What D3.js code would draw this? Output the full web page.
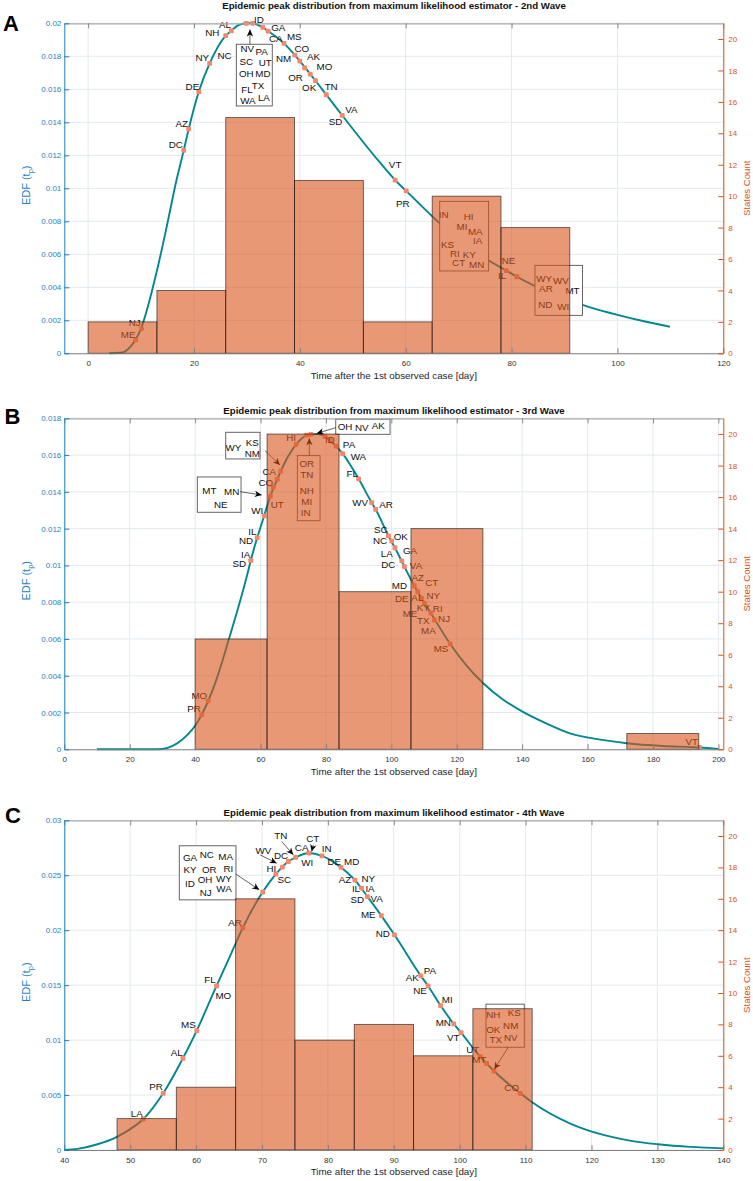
<!DOCTYPE html>
<html><head><meta charset="utf-8">
<script src="https://cdn.jsdelivr.net/npm/d3@7"></script>
<style>body{margin:0;background:#fff} text{font-family:"Liberation Sans",Arial,Helvetica,sans-serif}</style>
</head><body><svg id="c" width="753" height="1181"></svg>
<script>
// ---------------- Panel A (2nd wave) ----------------
const aXTicks=[0,20,40,60,80,100,120];
const aYTicks=[0,0.002,0.004,0.006,0.008,0.01,0.012,0.014,0.016,0.018,0.02];
const aBinEdges=[0,13,26,39,52,65,78,91];
const aCounts=[2,4,15,11,2,10,8];
const aCurveT=[4,6,7,8,9,10,11,12,13,14.8,16.7,18.06,19,20.9,22.96,26,27.05,28.5,29.9,30.5,31.1,33,34,37,39.06,40,41.96,42.96,45,48,55,58,60.1,68,70,72,75,79,81,87.9,91,95,100,105,109.9];
const aCurveY=[0,0.00003,0.00012,0.0004,0.00085,0.0015,0.0025,0.0037,0.005,0.0076,0.0105,0.0123,0.01359,0.01585,0.01757,0.01925,0.01955,0.0199,0.02,0.02,0.02,0.01975,0.01953,0.01878,0.01807,0.01771,0.01692,0.01652,0.01567,0.01442,0.01161,0.0105,0.00984,0.00743,0.00691,0.00642,0.00576,0.00501,0.00464,0.00358,0.00319,0.00277,0.00233,0.00194,0.00161];
const aMarkT=[9.0,10.1,18.06,19.0,20.9,22.96,26.0,27.05,29.9,31.1,33.0,34.0,37.0,39.06,40.0,40.9,41.96,42.96,45.0,48.0,58.0,60.1,68.0,70.0,71.0,72.0,73.0,74.0,75.0,79.0,81.0,87.9,91.0];
const aMarkY=[0.00081,0.0015,0.0123,0.01359,0.01585,0.01757,0.01925,0.01955,0.02,0.02,0.01975,0.01953,0.01878,0.01807,0.01771,0.0173,0.01692,0.01652,0.01567,0.01442,0.0105,0.00984,0.00743,0.00691,0.00667,0.00642,0.0062,0.00596,0.00576,0.00501,0.00464,0.00358,0.00319];
const aLabels=[["NH",23.47,0.01943],["AL",25.85,0.01991],["ID",32.26,0.02026],["GA",35.92,0.01976],["CA",35.47,0.01911],["MS",38.94,0.01919],["NM",36.92,0.01788],["CO",40.38,0.01848],["AK",42.58,0.01797],["MO",44.66,0.01737],["OR",39.2,0.01673],["OK",41.75,0.01611],["TN",45.92,0.0162],["VA",49.75,0.01479],["SD",46.74,0.01404],["NY",21.58,0.01794],["NC",25.79,0.01808],["DE",19.7,0.0162],["AZ",17.68,0.01394],["DC",16.55,0.01264],["NJ",8.81,0.00185],["ME",7.55,0.00117],["VT",58.0,0.01145],["PR",59.43,0.00909],
["NV",30.08,0.01848],["PA",32.77,0.01832],["SC",29.89,0.0177],["UT",33.47,0.01761],["OH",29.89,0.01693],["MD",33.02,0.01694],["TX",32.08,0.01622],["FL",30.0,0.01596],["LA",33.21,0.01551],["WA",30.19,0.01531],
["IN",67.17,0.00842],["HI",71.89,0.00828],["MI",70.64,0.00767],["MA",73.15,0.00741],["KS",67.9,0.00662],["IA",73.58,0.00682],["RI",69.3,0.00603],["KY",72.02,0.00596],["CT",70.0,0.00549],["MN",73.4,0.00541],
["NE",79.43,0.00565],["IL",78.19,0.0047],["WY",86.17,0.00455],["WV",89.32,0.0044],["AR",86.49,0.00394],["MT",91.51,0.00378],["ND",86.36,0.00293],["WI",89.75,0.00283]];
const aBoxes=[[28.0,0.01873,34.79,0.01499],[66.42,0.00921,75.66,0.00499],[84.42,0.00533,93.4,0.0023]];
const aArrows=[[30.57,0.01873,30.57,0.01963]];

// ---------------- Panel B (3rd wave) ----------------
const bXTicks=[0,20,40,60,80,100,120,140,160,180,200];
const bYTicks=[0,0.002,0.004,0.006,0.008,0.01,0.012,0.014,0.016,0.018];
const bBinEdges=[40,62,84,106,128,150,172,194];
const bCounts=[7,20,10,14,0,0,1];
const bCurveT=[10,20,27,30,33.3,36,38,40,42,44,47,50.3,53.5,56.3,57,59,61.1,63,65.1,66.2,68.5,70.9,74.1,75.4,77.5,79.7,81.3,83.1,85.1,90,94,95.2,99.1,101.1,104,107,109.3,112.1,118,123,128.1,134,140.1,147,154.6,163,172,183,194.2,200];
const bCurveY=[0,0,0,0.00002,0.0002,0.00052,0.00085,0.00128,0.00187,0.00263,0.00405,0.00598,0.0079,0.00975,0.01026,0.01151,0.01269,0.01377,0.01468,0.01513,0.01595,0.01658,0.01709,0.01713,0.01714,0.017,0.01678,0.01649,0.01608,0.01471,0.01341,0.01305,0.01161,0.01096,0.00993,0.0089,0.00821,0.0074,0.00573,0.00455,0.00359,0.00272,0.00205,0.00144,0.00087,0.00055,0.00033,0.00018,0.0001,0.00002];
const bMarkT=[42,44,57,59,61.1,63,63.9,65.1,66.2,70.9,74.1,75.4,79.7,81.3,83.1,85.1,90,94,95.2,99.1,100.1,101.1,103.2,104,107,108.1,109.3,110.1,112.1,113.2,118,194.2];
const bMarkY=[0.00187,0.00263,0.01026,0.01151,0.01269,0.01377,0.01425,0.01468,0.01513,0.01658,0.01709,0.01713,0.017,0.01678,0.01649,0.01608,0.01471,0.01341,0.01305,0.01161,0.01133,0.01096,0.01025,0.00993,0.0089,0.00857,0.00821,0.00794,0.0074,0.00703,0.00573,0.0001];
const bLabels=[["HI",69.33,0.01695],["ID",81.25,0.01687],["PA",87.06,0.01655],["WA",89.91,0.01595],["FL",88.07,0.01501],["WV",90.43,0.01343],["CA",62.69,0.01512],["CO",61.59,0.01452],["WI",59.02,0.01301],["UT",65.14,0.01329],["IL",57.49,0.01187],["ND",55.57,0.01138],["IA",55.47,0.0106],["SD",53.52,0.01008],
["OR",74.13,0.01555],["TN",74.13,0.01492],["NH",74.13,0.0141],["MI",74.13,0.01346],["IN",73.82,0.01287],
["WY",51.68,0.01642],["KS",57.49,0.01669],["NM",57.49,0.0161],
["MT",44.34,0.0141],["MN",51.19,0.01401],["NE",47.83,0.01334],
["OH",85.84,0.01754],["NV",90.95,0.01749],["AK",96.02,0.0176],
["AR",98.38,0.01334],["SC",96.76,0.01198],["NC",96.54,0.01133],["OK",102.87,0.0116],["LA",98.59,0.01066],["DC",99.08,0.01006],["GA",105.72,0.0108],["VA",107.55,0.00998],["AZ",108.07,0.00935],["CT",112.35,0.00908],["MD",102.45,0.00893],["DE",103.18,0.00821],["AL",107.95,0.00827],["NY",112.84,0.00834],["KY",109.79,0.0077],["RI",114.19,0.00767],["ME",105.72,0.00736],["TX",109.79,0.00703],["NJ",116.12,0.0071],["MA",111.31,0.00645],["MS",115.2,0.00547],["VT",191.87,0.00041],["MO",41.28,0.00295],["PR",39.66,0.00223]];
const bBoxes=[[71.25,0.01597,78.2,0.01243],[49.36,0.01724,59.85,0.01579],[40.67,0.01481,54.04,0.01289],[83.0,0.01795,99.6,0.01713]];
const bArrows=[[74.92,0.01597,74.92,0.01691],[61.38,0.01624,65.96,0.01546],[53.73,0.01401,60.37,0.01383],[83.0,0.01749,77.19,0.01718]];

// ---------------- Panel C (4th wave) ----------------
const cXTicks=[40,50,60,70,80,90,100,110,120,130,140];
const cYTicks=[0,0.005,0.01,0.015,0.02,0.025,0.03];
const cBinEdges=[48,57,66,75,84,93,102,111];
const cCounts=[2,4,16,7,8,6,9];
const cCurveT=[40,42,44.9,48,50,52,55,58,60.1,63.1,64.9,67.1,70.1,72.1,74,75.1,77.1,79.1,82,84.1,86,88.1,90.1,94.1,95.2,97.1,99.1,100.2,103.1,105.2,109.2,111.1,116.7,121.8,126,130.1,135,140];
const cCurveY=[0,0.0001,0.0005,0.0012,0.0019,0.00282,0.00516,0.00835,0.01087,0.01494,0.0173,0.02024,0.02347,0.0251,0.02625,0.02662,0.02702,0.02677,0.02571,0.02456,0.02306,0.02133,0.01958,0.01584,0.01493,0.01314,0.01147,0.01068,0.0085,0.00719,0.00516,0.0043,0.00243,0.00137,0.00083,0.00052,0.00028,0.00015];
const cMarkT=[52,55,58,60.1,63.1,67.1,70.1,72.1,73.1,74,75.1,77.1,79.1,82,84.1,85.1,86,88.1,90.1,94.1,95.2,97.1,99.1,100.2,103.1,104.1,105.2,109.2];
const cMarkY=[0.00282,0.00516,0.00835,0.01087,0.01494,0.02024,0.02347,0.0251,0.02574,0.02625,0.02662,0.02702,0.02677,0.02571,0.02456,0.02383,0.02306,0.02133,0.01958,0.01584,0.01493,0.01314,0.01147,0.01068,0.0085,0.00786,0.00719,0.00516];
const cLabels=[["TN",72.84,0.02859],["CT",77.69,0.02838],["CA",76.02,0.02752],["IN",79.82,0.02741],["WV",70.2,0.02725],["DC",72.88,0.02677],["WI",76.87,0.02616],["DE",80.97,0.02625],["MD",83.61,0.02625],["HI",71.41,0.02565],["SC",73.38,0.02458],["AZ",82.6,0.02465],["NY",86.13,0.02474],["IL",84.26,0.02376],["IA",86.39,0.02383],["SD",84.46,0.02283],["VA",87.4,0.02292],["ME",86.13,0.0214],["AR",65.9,0.0207],
["GA",59.07,0.02665],["NC",61.61,0.02686],["MA",64.49,0.0267],["KY",59.07,0.02549],["OR",62.0,0.02556],["RI",64.89,0.02565],["ID",59.07,0.02422],["OH",61.35,0.02465],["WY",64.23,0.02474],["NJ",61.46,0.02343],["WA",64.23,0.02383],
["ND",88.32,0.01967],["PA",95.49,0.01633],["FL",62.11,0.01548],["MO",64.13,0.01402],["MS",58.82,0.01138],["AL",57.06,0.00886],["PR",53.91,0.00576],["LA",50.99,0.00334],["AK",92.81,0.01572],["NE",93.98,0.01448],["MI",98.12,0.01372],["MN",97.51,0.01163],["VT",99.03,0.01026],["UT",101.97,0.00917],["MT",102.97,0.00827],["CO",107.89,0.00567],
["NH",105.1,0.01229],["KS",108.29,0.0125],["OK",105.1,0.01099],["NM",107.74,0.01129],["TX",105.46,0.01008],["NV",107.74,0.01022]];
const cBoxes=[[57.45,0.02768,66.05,0.02276],[103.99,0.01327,109.8,0.00935]];
const cArrows=[[72.99,0.02807,74.75,0.02686],[77.78,0.02777,77.54,0.02716],[69.7,0.02686,72.23,0.0261],[66.05,0.0251,69.59,0.02367],[107.37,0.00935,105.25,0.00735]];

const countTicks=[0,2,4,6,8,10,12,14,16,18,20];

// ---------------- drawing ----------------
const svg=d3.select("#c");
const BLUE="#1f7fc5", ORANGE="#D95319", BAR="rgb(217,83,25)", CURVE="#00878f", MARK="#f7876b", GRID="#e3e9ee";
svg.append("defs").append("marker").attr("id","ah").attr("viewBox","-8 -4 9 8")
  .attr("refX",0).attr("refY",0).attr("markerWidth",9).attr("markerHeight",8)
  .attr("markerUnits","userSpaceOnUse").attr("orient","auto")
  .append("path").attr("d","M0,0L-7,-3.2L-5,0L-7,3.2Z").attr("fill","#000");

const panels=[
 {letter:"A",lx:3,ly:30.7,title:"Epidemic peak distribution from maximum likelihood estimator - 2nd Wave",ty:9.3,top:23.3,bottom:353.3,xDom:[-4.5,120],xTicks:aXTicks,yDom:[0,0.02],yTicks:aYTicks,edges:aBinEdges,counts:aCounts,cT:aCurveT,cY:aCurveY,mT:aMarkT,mY:aMarkY,labels:aLabels,boxes:aBoxes,arrows:aArrows},
 {letter:"B",lx:4.5,ly:423.5,title:"Epidemic peak distribution from maximum likelihood estimator - 3rd Wave",ty:414,top:418.3,bottom:749.3,xDom:[0,201.5],xTicks:bXTicks,yDom:[0,0.018],yTicks:bYTicks,edges:bBinEdges,counts:bCounts,cT:bCurveT,cY:bCurveY,mT:bMarkT,mY:bMarkY,labels:bLabels,boxes:bBoxes,arrows:bArrows},
 {letter:"C",lx:5,ly:822.7,title:"Epidemic peak distribution from maximum likelihood estimator - 4th Wave",ty:815.5,top:820.3,bottom:1150,xDom:[40,140],xTicks:cXTicks,yDom:[0,0.03],yTicks:cYTicks,edges:cBinEdges,counts:cCounts,cT:cCurveT,cY:cCurveY,mT:cMarkT,mY:cMarkY,labels:cLabels,boxes:cBoxes,arrows:cArrows}
];

const L=64.3,R=723.3;
panels.forEach(p=>{
  const x=d3.scaleLinear().domain(p.xDom).range([L,R]);
  const y=d3.scaleLinear().domain(p.yDom).range([p.bottom,p.top]);
  const yr=d3.scaleLinear().domain([0,21]).range([p.bottom,p.top]);
  const g=svg.append("g");
  // grid
  g.append("g").selectAll("line").data(p.xTicks).join("line")
    .attr("x1",d=>x(d)).attr("x2",d=>x(d)).attr("y1",p.top).attr("y2",p.bottom)
    .attr("stroke",GRID).attr("stroke-width",1);
  g.append("g").selectAll("line").data(p.yTicks).join("line")
    .attr("x1",L).attr("x2",R).attr("y1",d=>y(d)).attr("y2",d=>y(d))
    .attr("stroke",GRID).attr("stroke-width",1);
  // curve
  const line=d3.line().x(i=>x(p.cT[i])).y(i=>y(p.cY[i])).curve(d3.curveMonotoneX);
  g.append("path").attr("d",line(d3.range(p.cT.length))).attr("fill","none")
    .attr("stroke",CURVE).attr("stroke-width",1.9);
  // markers
  g.append("g").selectAll("rect").data(d3.range(p.mT.length)).join("rect")
    .attr("x",i=>x(p.mT[i])-2.4).attr("y",i=>y(p.mY[i])-2.4).attr("width",4.8).attr("height",4.8)
    .attr("rx",1).attr("fill",MARK);
  // boxes
  g.append("g").selectAll("rect").data(p.boxes).join("rect")
    .attr("x",d=>x(d[0])).attr("y",d=>y(d[1])).attr("width",d=>x(d[2])-x(d[0])).attr("height",d=>y(d[3])-y(d[1]))
    .attr("fill","#fff").attr("stroke","#555").attr("stroke-width",0.9);
  // arrows
  g.append("g").selectAll("line").data(p.arrows).join("line")
    .attr("x1",d=>x(d[0])).attr("y1",d=>y(d[1])).attr("x2",d=>x(d[2])).attr("y2",d=>y(d[3]))
    .attr("stroke","#222").attr("stroke-width",0.7).attr("marker-end","url(#ah)");
  // labels
  g.append("g").selectAll("text").data(p.labels).join("text")
    .attr("x",d=>x(d[1])).attr("y",d=>y(d[2])).attr("dy","0.36em").attr("text-anchor","middle")
    .attr("font-size",9.8).attr("fill","#111").text(d=>d[0]);
  // histogram bars (semi-transparent, on top)
  g.append("g").selectAll("rect").data(p.counts.map((c,i)=>({x0:p.edges[i],x1:p.edges[i+1],c})).filter(d=>d.c>0)).join("rect")
    .attr("x",d=>x(d.x0)).attr("width",d=>x(d.x1)-x(d.x0)).attr("y",d=>yr(d.c)).attr("height",d=>yr(0)-yr(d.c))
    .attr("fill",BAR).attr("fill-opacity",0.6).attr("stroke","#000").attr("stroke-opacity",0.6).attr("stroke-width",0.9);
  // axes
  const ax=g.append("g");
  const bot=ax.append("g").attr("transform",`translate(0,${p.bottom})`)
    .call(d3.axisBottom(x).tickValues(p.xTicks).tickSizeInner(-5).tickSizeOuter(0).tickPadding(7.2));
  bot.select(".domain").attr("stroke","#808080");
  bot.selectAll(".tick line").attr("stroke","#808080");
  bot.selectAll("text").attr("font-size",8).attr("fill","#333").attr("font-family","Liberation Sans, Arial, sans-serif");
  const topA=ax.append("g").attr("transform",`translate(0,${p.top})`)
    .call(d3.axisTop(x).tickValues(p.xTicks).tickSizeInner(-5).tickSizeOuter(0).tickFormat(""));
  topA.select(".domain").attr("stroke","#a8a8a8").attr("stroke-width",1.3);
  topA.selectAll(".tick line").attr("stroke","#8a8a8a");
  const lf=ax.append("g").attr("transform",`translate(${L},0)`)
    .call(d3.axisLeft(y).tickValues(p.yTicks).tickSizeInner(-5).tickSizeOuter(0).tickPadding(3).tickFormat(d=>String(+d.toFixed(4))));
  lf.select(".domain").attr("stroke",BLUE);
  lf.selectAll(".tick line").attr("stroke",BLUE);
  lf.selectAll("text").attr("font-size",8).attr("fill",BLUE).attr("font-family","Liberation Sans, Arial, sans-serif");
  const rt=ax.append("g").attr("transform",`translate(${R},0)`)
    .call(d3.axisRight(yr).tickValues(countTicks).tickSizeInner(-5).tickSizeOuter(0).tickPadding(5));
  rt.select(".domain").attr("stroke",ORANGE);
  rt.selectAll(".tick line").attr("stroke",ORANGE);
  rt.selectAll("text").attr("font-size",8).attr("fill",ORANGE).attr("font-family","Liberation Sans, Arial, sans-serif");
  // axis titles
  const mid=(p.top+p.bottom)/2;
  const yl=svg.append("text").attr("transform",`translate(30,${mid-3}) rotate(-90)`).attr("text-anchor","middle")
    .attr("font-size",11).attr("fill",BLUE);
  yl.append("tspan").text("EDF (t");
  yl.append("tspan").attr("font-size",7.5).attr("dy",2.5).text("p");
  yl.append("tspan").attr("dy",-2.5).text(")");
  svg.append("text").attr("transform",`translate(749.5,${mid}) rotate(-90)`).attr("text-anchor","middle")
    .attr("font-size",9.6).attr("fill",ORANGE).text("States Count");
  svg.append("text").attr("x",(L+R)/2).attr("y",p.bottom+25.3).attr("text-anchor","middle")
    .attr("font-size",9.8).attr("fill","#262626").text("Time after the 1st observed case [day]");
  svg.append("text").attr("x",394).attr("y",p.ty).attr("text-anchor","middle")
    .attr("font-size",9.7).attr("font-weight","bold").attr("fill","#111").text(p.title);
  svg.append("text").attr("x",p.lx).attr("y",p.ly).attr("font-size",22).attr("font-weight","bold")
    .attr("fill","#000").text(p.letter);
});
</script></body></html>
